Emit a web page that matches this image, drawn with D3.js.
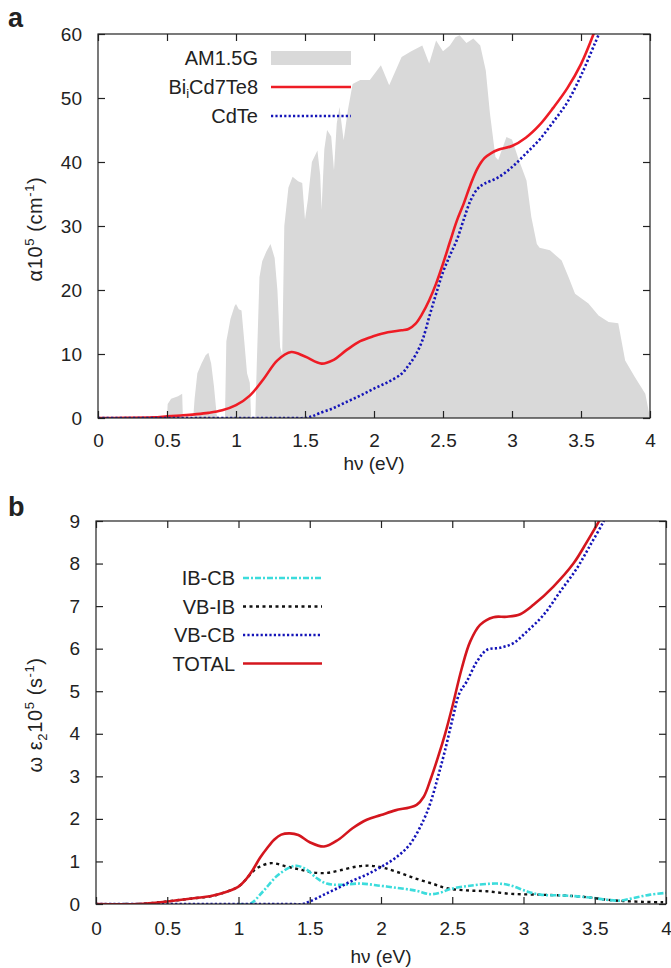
<!DOCTYPE html>
<html><head><meta charset="utf-8">
<script src="https://cdn.jsdelivr.net/npm/d3@7"></script>
<style>
body{margin:0;background:#fff;}
text{font-family:"Liberation Sans",Arial,Helvetica,sans-serif;fill:#222;}
</style></head>
<body>
<svg id="c" width="671" height="968"></svg>
<script>
// ---------- DATA ----------
const xTicks = [0,0.5,1,1.5,2,2.5,3,3.5,4];
const yTicksA = [0,10,20,30,40,50,60];
const yTicksB = [0,1,2,3,4,5,6,7,8,9];

// Panel a: AM1.5G solar spectrum (arbitrary scale, shaded)
const am15 = [[0.50,0],[0.505,2.2],[0.53,3],[0.58,3.4],[0.61,3.8],[0.615,0],
 [0.69,0],[0.70,3],[0.72,7],[0.75,8.5],[0.78,9.8],[0.80,10.2],[0.82,8.5],[0.84,5],[0.86,0.5],[0.87,0],
 [0.92,0],[0.93,12],[0.96,15.5],[0.99,17.5],[1.00,17.8],[1.02,17],[1.04,16.8],[1.06,12],[1.08,7],[1.10,5.5],[1.11,0],
 [1.14,0],[1.15,8],[1.17,22],[1.19,24.5],[1.22,26],[1.25,27.2],[1.28,25],[1.30,20],[1.32,11],[1.335,10],
 [1.35,30],[1.38,36],[1.41,37.7],[1.45,37],[1.48,36.7],[1.50,31],[1.52,34],[1.55,40],[1.59,41.8],[1.61,38],[1.62,32.5],
 [1.64,42],[1.66,45],[1.69,44],[1.71,38.7],[1.73,46],[1.75,48.6],[1.78,43.4],[1.81,48],[1.845,52.2],[1.9,52.8],[1.97,52.8],
 [2.05,55.1],[2.11,52],[2.2,56.4],[2.27,57.3],[2.35,58.2],[2.40,55.4],[2.45,59],[2.5,57.3],[2.55,58.2],[2.59,59.5],
 [2.62,59.8],[2.67,58.6],[2.72,59.3],[2.77,58.2],[2.81,54.3],[2.84,47.6],[2.88,40.8],[2.90,40.3],[2.96,43.9],[3.0,43.5],
 [3.05,40.3],[3.105,37.1],[3.14,31.4],[3.18,27.2],[3.2,26.6],[3.275,26.2],[3.36,24.6],[3.41,22],[3.457,19.4],[3.554,17.9],
 [3.627,16],[3.70,15],[3.77,14.8],[3.82,9],[3.89,6.4],[3.966,3.8],[4.0,0]];

// Panel a: absorption coefficient (x 10^5 cm^-1)
const absBiCdTe = [[0,0],[0.2,0.02],[0.4,0.1],[0.5,0.25],[0.6,0.4],[0.7,0.57],[0.8,0.8],[0.9,1.2],[1.0,2.0],[1.1,3.5],
 [1.2,6.1],[1.3,9.0],[1.4,10.3],[1.5,9.6],[1.62,8.5],[1.7,9.0],[1.8,10.6],[1.9,12.0],[2.0,12.8],[2.1,13.4],[2.2,13.7],
 [2.25,13.9],[2.3,14.7],[2.35,16.3],[2.4,18.4],[2.45,21],[2.5,24.1],[2.55,27.5],[2.6,30.8],[2.65,33.5],[2.7,36.5],
 [2.75,39],[2.8,40.6],[2.85,41.4],[2.9,41.9],[3.0,42.5],[3.1,43.8],[3.2,45.8],[3.3,48.5],[3.4,51.5],[3.5,55.3],[3.6,60.5]];
const absCdTe = [[0,0],[1.4,0],[1.5,0],[1.55,0.25],[1.6,0.7],[1.7,1.5],[1.8,2.5],[1.9,3.5],[2.0,4.6],[2.1,5.6],[2.2,6.9],
 [2.25,8.2],[2.3,9.8],[2.35,12.1],[2.4,15.8],[2.45,19.4],[2.5,22.8],[2.55,25.4],[2.6,27.8],[2.65,31],[2.7,34],
 [2.75,35.8],[2.8,36.6],[2.9,37.6],[3.0,39.2],[3.1,41.3],[3.2,43.5],[3.3,46.3],[3.4,49.3],[3.5,53.5],[3.6,58.5],[3.65,61]];

// Panel b: omega*eps2 (x 10^5 s^-1)
const ibcb = [[1.0,0],[1.08,0],[1.173,0.30],[1.267,0.65],[1.36,0.86],[1.408,0.9],[1.478,0.81],[1.548,0.61],[1.619,0.48],
 [1.712,0.45],[1.852,0.48],[1.993,0.43],[2.133,0.37],[2.25,0.31],[2.344,0.23],[2.42,0.27],[2.485,0.35],[2.625,0.43],
 [2.813,0.48],[2.906,0.44],[3.02,0.30],[3.117,0.22],[3.28,0.20],[3.445,0.16],[3.585,0.10],[3.679,0.08],[3.772,0.14],
 [3.89,0.22],[4.0,0.26]];
const vbib = [[0.2,0],[0.3,0],[0.5,0.06],[0.6,0.1],[0.7,0.14],[0.8,0.18],[0.9,0.27],[1.0,0.41],[1.05,0.57],[1.1,0.76],
 [1.15,0.88],[1.232,0.96],[1.338,0.88],[1.431,0.81],[1.525,0.74],[1.619,0.73],[1.712,0.79],[1.829,0.88],[1.923,0.9],
 [2.016,0.85],[2.133,0.73],[2.25,0.59],[2.368,0.47],[2.46,0.37],[2.60,0.32],[2.74,0.30],[2.906,0.24],[3.09,0.22],
 [3.28,0.20],[3.445,0.16],[3.585,0.10],[3.70,0.07],[3.84,0.05],[3.98,0.04]];
const vbcb = [[0,0],[1.35,0],[1.45,0],[1.5,0.06],[1.6,0.22],[1.7,0.38],[1.8,0.55],[1.9,0.69],[2.0,0.87],[2.1,1.08],[2.2,1.39],
 [2.3,1.98],[2.35,2.41],[2.4,2.99],[2.45,3.62],[2.5,4.32],[2.55,4.95],[2.602,5.23],[2.672,5.69],[2.743,5.97],
 [2.836,6.02],[2.929,6.13],[3.023,6.4],[3.14,6.79],[3.257,7.34],[3.375,7.89],[3.468,8.43],[3.56,8.98],[3.6,9.3]];
const total = [[0,0],[0.3,0],[0.5,0.06],[0.6,0.1],[0.7,0.14],[0.8,0.18],[0.9,0.27],[1.0,0.41],[1.05,0.57],[1.1,0.8],
 [1.15,1.08],[1.2,1.31],[1.25,1.51],[1.3,1.63],[1.36,1.66],[1.42,1.62],[1.5,1.45],[1.6,1.35],[1.7,1.51],
 [1.8,1.78],[1.9,1.98],[2.0,2.09],[2.1,2.2],[2.2,2.27],[2.25,2.33],[2.3,2.52],[2.35,2.95],[2.4,3.45],[2.45,4.0],
 [2.5,4.63],[2.567,5.54],[2.625,6.16],[2.695,6.56],[2.789,6.74],[2.883,6.75],[2.977,6.81],[3.07,7.03],[3.21,7.46],
 [3.35,8.0],[3.445,8.51],[3.527,8.98],[3.56,9.2]];

const legendA = ["AM1.5G","BiiCd7Te8","CdTe"];
const legendB = ["IB-CB","VB-IB","VB-CB","TOTAL"];

// ---------- DRAW ----------
const svg = d3.select("#c");
const FONT = 19;

function panel(o){
  const g = svg.append("g");
  const x = d3.scaleLinear().domain([0,4]).range([o.left,o.right]);
  const y = d3.scaleLinear().domain(o.ydom).range([o.bottom,o.top]);
  const id = "clip"+o.name;
  svg.append("clipPath").attr("id",id).append("rect")
    .attr("x",o.left).attr("y",o.top).attr("width",o.right-o.left).attr("height",o.bottom-o.top);
  const plot = g.append("g").attr("clip-path",`url(#${id})`);
  const fmt = d=>String(d);
  const ax = (gen, tr, labels)=>{
    const a = g.append("g").attr("transform",tr).call(gen);
    a.select(".domain").remove();
    a.selectAll(".tick line").attr("stroke","#222").attr("stroke-width",1.2);
    a.selectAll("text").attr("font-size",FONT).attr("fill","#222")
      .style("font-family",'"Liberation Sans",Arial,sans-serif');
    if(!labels) a.selectAll("text").remove();
    return a;
  };
  ax(d3.axisBottom(x).tickValues(xTicks).tickFormat(fmt).tickSize(-7).tickSizeOuter(0).tickPadding(o.xpad),
     `translate(0,${o.bottom})`, true);
  ax(d3.axisTop(x).tickValues(xTicks).tickSize(-7).tickSizeOuter(0), `translate(0,${o.top})`, false);
  ax(d3.axisLeft(y).tickValues(o.yticks).tickFormat(fmt).tickSize(-7).tickSizeOuter(0).tickPadding(16),
     `translate(${o.left},0)`, true);
  ax(d3.axisRight(y).tickValues(o.yticks).tickSize(-7).tickSizeOuter(0), `translate(${o.right},0)`, false);
  return {g,plot,x,y};
}

const A = panel({name:"a",left:98,right:650,top:34,bottom:418,ydom:[0,60],yticks:yTicksA,xpad:15.5});
const B = panel({name:"b",left:96,right:666,top:521,bottom:904,ydom:[0,9],yticks:yTicksB,xpad:17.5});

const GRAY="#d9d9d9", RED="#ee1c25", RED2="#d4161e", BLUE="#1414b8", CYAN="#3cdcdc", BLACK="#111";
const styles = {
  red:{stroke:RED,w:2.6,dash:null},
  red2:{stroke:RED2,w:2.6,dash:null},
  blue:{stroke:BLUE,w:2.6,dash:"2.2,2.2"},
  cyan:{stroke:CYAN,w:2.6,dash:"6,2,2,2"},
  black:{stroke:BLACK,w:2.4,dash:"3,3.5"}
};
function drawLine(P,data,s){
  const line = d3.line().x(d=>P.x(d[0])).y(d=>P.y(d[1])).curve(d3.curveCatmullRom.alpha(0.5));
  P.plot.append("path").datum(data).attr("d",line).attr("fill","none")
    .attr("stroke",s.stroke).attr("stroke-width",s.w).attr("stroke-dasharray",s.dash);
}
// panel a
const area = d3.area().x(d=>A.x(d[0])).y0(A.y(0)).y1(d=>A.y(d[1])).curve(d3.curveLinear);
A.plot.append("path").datum(am15).attr("d",area).attr("fill",GRAY);
drawLine(A,absBiCdTe,styles.red);
drawLine(A,absCdTe,styles.blue);
// panel b
drawLine(B,vbib,styles.black);
drawLine(B,ibcb,styles.cyan);
drawLine(B,vbcb,styles.blue);
drawLine(B,total,styles.red2);

// frames
[A,B].forEach(P=>{
  const [x0,x1]=P.x.range(), [y0,y1]=P.y.range();
  P.g.append("rect").attr("x",x0).attr("y",y1).attr("width",x1-x0).attr("height",y0-y1)
    .attr("fill","none").attr("stroke","#222").attr("stroke-width",1.2);
});

// legends
const LF = 20;
const legA = svg.append("g");
const rowsA = [58,87,116];
legendA.forEach((name,i)=>{
  const t = legA.append("text").attr("x",258).attr("y",rowsA[i]+7).attr("text-anchor","end").attr("font-size",LF);
  if(name==="BiiCd7Te8"){
    t.append("tspan").text("Bi");
    t.append("tspan").text("i").attr("font-size",13).attr("dy",4);
    t.append("tspan").text("Cd7Te8").attr("dy",-4);
  } else t.text(name);
  if(i===0) legA.append("rect").attr("x",271).attr("y",rowsA[i]-7).attr("width",80).attr("height",14).attr("fill",GRAY);
  else { const s = i===1?styles.red:styles.blue;
    legA.append("line").attr("x1",271).attr("x2",351).attr("y1",rowsA[i]).attr("y2",rowsA[i])
     .attr("stroke",s.stroke).attr("stroke-width",s.w).attr("stroke-dasharray",s.dash); }
});
const legB = svg.append("g");
const rowsB = [578,606.5,635,663.5];
const stB = [styles.cyan,styles.black,styles.blue,styles.red2];
legendB.forEach((name,i)=>{
  legB.append("text").attr("x",235).attr("y",rowsB[i]+7).attr("text-anchor","end").attr("font-size",LF).text(name);
  legB.append("line").attr("x1",243).attr("x2",322).attr("y1",rowsB[i]).attr("y2",rowsB[i])
    .attr("stroke",stB[i].stroke).attr("stroke-width",stB[i].w).attr("stroke-dasharray",stB[i].dash);
});

// panel letters
svg.append("text").attr("x",8).attr("y",27).attr("font-size",27).attr("font-weight","bold").text("a");
svg.append("text").attr("x",8).attr("y",516).attr("font-size",27).attr("font-weight","bold").text("b");

// axis titles
svg.append("text").attr("x",374).attr("y",470).attr("text-anchor","middle").attr("font-size",FONT).text("hν (eV)");
svg.append("text").attr("x",381).attr("y",963).attr("text-anchor","middle").attr("font-size",FONT).text("hν (eV)");

const YF = 20;
const ya = svg.append("text").attr("transform","translate(42,229) rotate(-90)").attr("text-anchor","middle")
  .attr("font-size",YF).attr("letter-spacing",0.6);
ya.append("tspan").text("α10");
ya.append("tspan").text("5").attr("font-size",13).attr("dy",-8);
ya.append("tspan").text(" (cm").attr("dy",8);
ya.append("tspan").text("-1").attr("font-size",13).attr("dy",-8);
ya.append("tspan").text(")").attr("dy",8);

const yb = svg.append("text").attr("transform","translate(42,715) rotate(-90)").attr("text-anchor","middle")
  .attr("font-size",YF).attr("letter-spacing",0.6);
yb.append("tspan").text("ω ε");
yb.append("tspan").text("2").attr("font-size",13).attr("dy",5);
yb.append("tspan").text("10").attr("dy",-5);
yb.append("tspan").text("5").attr("font-size",13).attr("dy",-8);
yb.append("tspan").text(" (s").attr("dy",8);
yb.append("tspan").text("-1").attr("font-size",13).attr("dy",-8);
yb.append("tspan").text(")").attr("dy",8);
</script>
</body></html>
